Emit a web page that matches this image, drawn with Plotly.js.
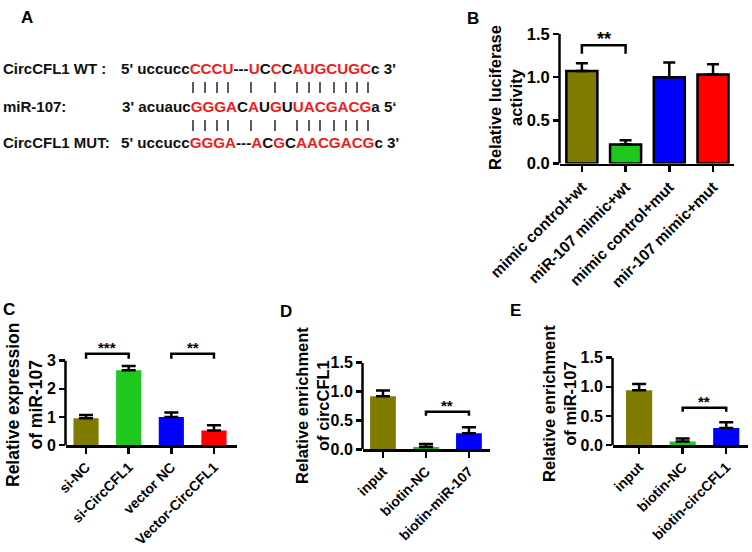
<!DOCTYPE html>
<html><head><meta charset="utf-8">
<script src="https://cdn.plot.ly/plotly-3.0.1.min.js"></script>
<style>html,body{margin:0;padding:0;background:#fff}</style>
</head><body><div id="chart" style="width:752px;height:552px"></div>
<script>
// ---------- Panel A (sequence alignment) ----------
const seqLabels = ["CircCFL1 WT :", "miR-107:", "CircCFL1 MUT:"];
const wtSeq  = [["5' uccucc",0],["CCCU",1],["---",0],["U",1],["C",0],["C",1],["C",0],["AUGCUGC",1],["c 3'",0]];
const mirSeq = [["3' acuauc",0],["GGGA",1],["C",0],["A",1],["U",0],["G",1],["U",0],["UACGACG",1],["a 5\u2018",0]];
const mutSeq = [["5' uccucc",0],["GGGA",1],["---",0],["A",1],["C",0],["G",1],["C",0],["AACGACG",1],["c 3'",0]];

// ---------- Panel B ----------
const bCats = ["mimic control+wt", "miR-107 mimic+wt", "mimic control+mut", "mir-107 mimic+mut"];
const bVals = [1.07, 0.22, 1.00, 1.03];
const bErrTop = [1.16, 0.27, 1.17, 1.15];
const bTicks = [0, 0.5, 1.0, 1.5];
const bSig = [{pair: [0, 1], top: 1.37, leg: 1.27, label: "**"}];

// ---------- Panel C ----------
const cCats = ["si-NC", "si-CircCFL1", "vector NC", "Vector-CircCFL1"];
const cVals = [0.95, 2.66, 1.00, 0.52];
const cErrTop = [1.07, 2.81, 1.16, 0.70];
const cTicks = [0, 1, 2, 3];
const cSig = [{pair: [0, 1], top: 3.25, leg: 3.07, label: "***"},
              {pair: [2, 3], top: 3.25, leg: 3.07, label: "**"}];

// ---------- Panel D ----------
const dCats = ["input", "biotin-NC", "biotin-miR-107"];
const dVals = [0.92, 0.04, 0.28];
const dErrTop = [1.02, 0.09, 0.38];
const dSig = [{pair: [1, 2], top: 0.65, leg: 0.58, label: "**"}];

// ---------- Panel E ----------
const eCats = ["input", "biotin-NC", "biotin-circCFL1"];
const eVals = [0.94, 0.06, 0.29];
const eErrTop = [1.05, 0.11, 0.39];
const eSig = [{pair: [1, 2], top: 0.64, leg: 0.57, label: "**"}];
const enrichTicks = [0, 0.5, 1.0, 1.5];

const barColors = ["#7f7a00", "#1ec81e", "#0000ff", "#ff0000"];

// ---------- layout helpers ----------
const W = 752, H = 552;
const FONT = "Liberation Sans, Arial, sans-serif";
const fx = p => p / W;
const fy = p => 1 - p / H;

const panels = [
  {cats: bCats, vals: bVals, err: bErrTop, ticks: bTicks, fmt: '.1f', sig: bSig,
   left: 560, right: 734, yZero: 163.5, yTopPx: 34, rangeTop: 1.5, xr: [-0.5, 3.48],
   barW: 0.71, outline: 2.5, capW: 6, yFont: 16.5, xFont: 15.5, starFont: 18,
   title: "Relative luciferase<br>activity", tX: 505, tY: 98, tFont: 16.5},
  {cats: cCats, vals: cVals, err: cErrTop, ticks: cTicks, fmt: 'd', sig: cSig,
   left: 66, right: 237, yZero: 445, yTopPx: 360.7, rangeTop: 3.35, xr: [-0.47, 3.54],
   barW: 0.59, outline: 0, capW: 7, yFont: 16, xFont: 14, starFont: 15,
   title: "Relative expression<br>of miR-107", tX: 24, tY: 405, tFont: 17.5},
  {cats: dCats, vals: dVals, err: dErrTop, ticks: enrichTicks, fmt: '.1f', sig: dSig,
   left: 363, right: 490, yZero: 449.3, yTopPx: 362.7, rangeTop: 1.5, xr: [-0.465, 2.49],
   barW: 0.6, outline: 0, capW: 7, yFont: 16, xFont: 14, starFont: 15,
   title: "Relative enrichment<br>of circCFL1", tX: 312, tY: 406, tFont: 16.5},
  {cats: eCats, vals: eVals, err: eErrTop, ticks: enrichTicks, fmt: '.1f', sig: eSig,
   left: 613, right: 748, yZero: 445, yTopPx: 357.7, rangeTop: 1.5, xr: [-0.6, 2.5],
   barW: 0.6, outline: 0, capW: 7, yFont: 16, xFont: 14, starFont: 15,
   title: "Relative enrichment<br>of miR-107", tX: 559, tY: 404, tFont: 16.5}
];

const traces = [];
const layout = {
  width: W, height: H, margin: {l: 0, r: 0, t: 0, b: 0},
  paper_bgcolor: '#fff', plot_bgcolor: 'rgba(0,0,0,0)', showlegend: false,
  font: {family: FONT, color: '#000'},
  shapes: [], annotations: []
};

panels.forEach((p, i) => {
  const n = i === 0 ? '' : String(i + 1);
  const xa = 'x' + n, ya = 'y' + n;
  const idx = p.cats.map((c, k) => k);
  const topVal = p.ticks[p.ticks.length - 1];
  const unit = (p.yZero - p.yTopPx) / topVal;
  const domTopPx = p.yZero - p.rangeTop * unit;
  traces.push({
    type: 'bar', x: idx, y: p.vals, xaxis: xa, yaxis: ya, width: p.barW,
    marker: {color: barColors.slice(0, p.vals.length), line: {color: '#000', width: p.outline}},
    error_y: {type: 'data', symmetric: false, array: p.err.map((e, k) => e - p.vals[k]),
              arrayminus: p.vals.map(() => 0), color: '#000', thickness: 2.5, width: p.capW},
    hoverinfo: 'skip'
  });
  layout['xaxis' + n] = {
    domain: [fx(p.left), fx(p.right)], anchor: ya, range: p.xr, fixedrange: true,
    tickmode: 'array', tickvals: idx, ticktext: p.cats, tickangle: -45,
    showline: true, linewidth: 2.5, linecolor: '#000', showgrid: false, zeroline: false,
    ticks: 'outside', ticklen: 6, tickwidth: 2.5, tickcolor: '#000',
    tickfont: {family: FONT, size: p.xFont, weight: 'bold', color: '#000'}
  };
  layout['yaxis' + n] = {
    domain: [fy(p.yZero), fy(domTopPx)], anchor: xa, range: [0, p.rangeTop], fixedrange: true,
    tickmode: 'array', tickvals: p.ticks, tickformat: p.fmt,
    showline: false, showgrid: false, zeroline: false,
    ticks: 'outside', ticklen: 6, tickwidth: 2.5, tickcolor: '#000',
    tickfont: {family: FONT, size: p.yFont, weight: 'bold', color: '#000'}
  };
  // y axis line (stops at the last tick, as in the original)
  layout.shapes.push({type: 'line', xref: 'paper', yref: ya, x0: fx(p.left - 0.5), x1: fx(p.left - 0.5),
    y0: 0, y1: topVal, line: {color: '#000', width: 2.5}});
  // significance brackets
  p.sig.forEach(s => {
    const x0 = s.pair[0], x1 = s.pair[1];
    layout.shapes.push({type: 'path', xref: xa, yref: ya,
      path: `M ${x0},${s.leg} L ${x0},${s.top} L ${x1},${s.top} L ${x1},${s.leg}`,
      line: {color: '#000', width: 2.5}});
    layout.annotations.push({xref: xa, yref: ya, x: (x0 + x1) / 2, y: s.top, text: s.label,
      showarrow: false, xanchor: 'center', yanchor: 'middle', yshift: 6,
      font: {family: FONT, size: p.starFont, weight: 'bold', color: '#000'}});
  });
  // axis title
  layout.annotations.push({xref: 'paper', yref: 'paper', x: fx(p.tX), y: fy(p.tY), text: p.title,
    textangle: -90, showarrow: false, xanchor: 'center', yanchor: 'middle',
    font: {family: FONT, size: p.tFont, weight: 'bold', color: '#000'}});
});

// panel letters
[["A", 27, 17], ["B", 473, 18], ["C", 9, 309], ["D", 286, 311], ["E", 515, 310]].forEach(L => {
  layout.annotations.push({xref: 'paper', yref: 'paper', x: fx(L[1]), y: fy(L[2]), text: L[0],
    showarrow: false, xanchor: 'center', yanchor: 'middle',
    font: {family: FONT, size: 17, weight: 'bold', color: '#000'}});
});

// Panel A rows
const rowY = [68, 107, 143];
const rowSeqX = [119, 120, 119];
const rows = [wtSeq, mirSeq, mutSeq];
const seqFont = 15.2;
rows.forEach((segs, r) => {
  layout.annotations.push({xref: 'paper', yref: 'paper', x: fx(1), y: fy(rowY[r]), text: seqLabels[r],
    showarrow: false, xanchor: 'left', yanchor: 'middle',
    font: {family: FONT, size: 15, weight: 'bold', color: '#111'}});
  const txt = segs.map(s => s[1] ? `<span style="color:#ee1c1c">${s[0]}</span>` : s[0]).join('');
  layout.annotations.push({xref: 'paper', yref: 'paper', x: fx(rowSeqX[r]), y: fy(rowY[r]), text: txt,
    showarrow: false, xanchor: 'left', yanchor: 'middle',
    font: {family: FONT, size: seqFont, weight: 'bold', color: '#111'}});
});
// base-pairing bars
const pairX = [193, 205, 217, 228, 251, 275, 297, 309, 320, 334, 346, 357, 368];
const barRows = [[82, 93], [120, 131]];
barRows.forEach(br => pairX.forEach(x => {
  layout.shapes.push({type: 'line', xref: 'paper', yref: 'paper', x0: fx(x), x1: fx(x),
    y0: fy(br[0]), y1: fy(br[1]), line: {color: '#333', width: 1.6}});
}));

Plotly.newPlot('chart', traces, layout, {staticPlot: true, displayModeBar: false});
</script></body></html>
